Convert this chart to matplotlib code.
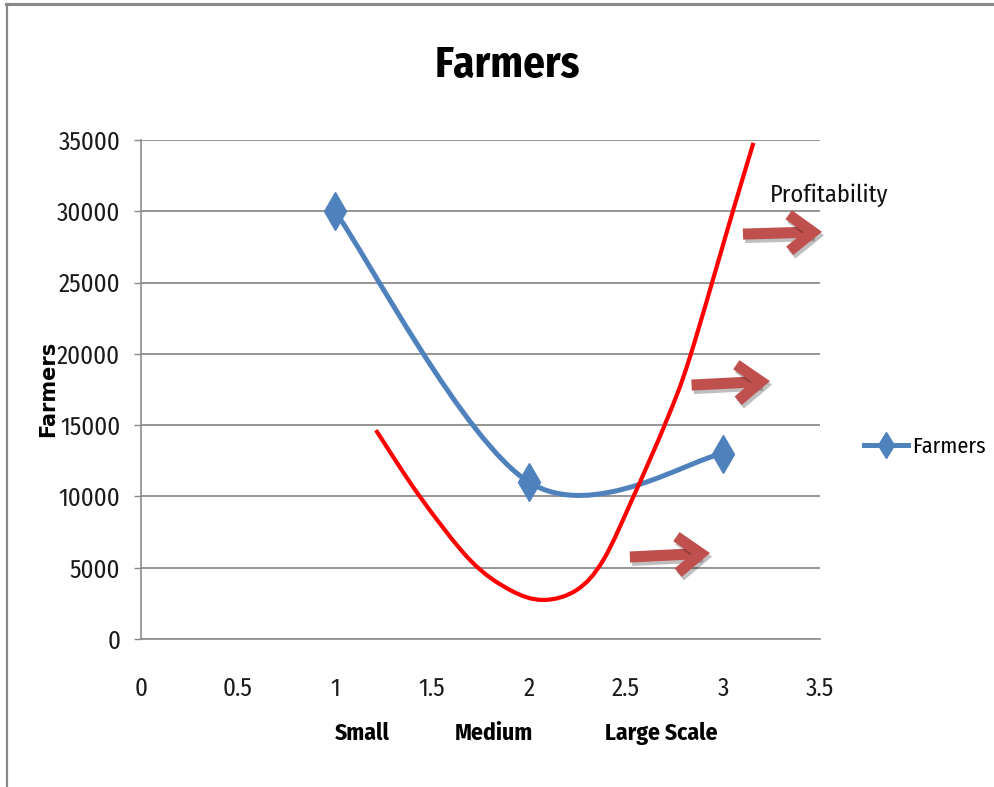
import numpy as np
import matplotlib
matplotlib.use("Agg")
import matplotlib.pyplot as plt
from matplotlib.path import Path
from matplotlib.patches import PathPatch
from matplotlib.lines import Line2D
import matplotlib.patheffects as pe

# farmers per farm size (1 = small, 2 = medium, 3 = large scale)
farm_size = [1, 2, 3]
farmers = [30000, 11000, 13000]

# hand drawn profitability curve
profit_x = [1.211, 1.438, 1.696, 1.902, 2.074, 2.246, 2.383, 2.538, 2.71, 2.83, 3.053, 3.157]
profit_y = [14650, 9980, 5540, 3440, 2740, 3440, 5540, 9980, 15360, 19800, 30100, 34800]

x_ticks = [0, 0.5, 1, 1.5, 2, 2.5, 3, 3.5]
x_tick_labels = ["0", "0.5", "1", "1.5", "2", "2.5", "3", "3.5"]
y_ticks = [0, 5000, 10000, 15000, 20000, 25000, 30000, 35000]
size_names = ["Small", "Medium", "Large Scale"]

NARROW = ["Fira Sans Condensed", "DejaVu Sans"]
W, H = 994, 787


def smooth_path(xs, ys):
    # bezier through the points, same kind of smoothing excel uses
    pts = np.column_stack([xs, ys]).astype(float)
    padded = np.vstack([pts[0], pts, pts[-1]])
    verts = [pts[0]]
    for i in range(len(pts) - 1):
        p0, p1, p2, p3 = padded[i], padded[i + 1], padded[i + 2], padded[i + 3]
        verts += [p1 + (p2 - p0) / 6, p2 - (p3 - p1) / 6, p2]
    codes = [Path.MOVETO] + [Path.CURVE4] * (3 * (len(pts) - 1))
    return Path(verts, codes)


fig = plt.figure(figsize=(W / 100, H / 100), dpi=100)
ax = fig.add_axes([141 / W, 1 - 639 / H, (820 - 141) / W, (639 - 140) / H])

ax.set_xlim(0, 3.5)
ax.set_ylim(0, 35000)
ax.set_xticks(x_ticks)
ax.set_xticklabels(x_tick_labels)
ax.set_yticks(y_ticks)
ax.tick_params(axis="x", length=0, pad=27, labelsize=18, colors="#1a1a1a")
ax.tick_params(axis="y", length=5, width=1, color="#888888", pad=10, labelsize=18, labelcolor="#1a1a1a")
for lab in ax.get_xticklabels() + ax.get_yticklabels():
    lab.set_family(NARROW)

ax.yaxis.grid(True, color="#8c8c8c", lw=1.3)
ax.set_axisbelow(True)
for s in ["top", "right"]:
    ax.spines[s].set_visible(False)
for s in ["left", "bottom"]:
    ax.spines[s].set_color("#8c8c8c")
    ax.spines[s].set_linewidth(1.2)

# farmers line
blue = "#4F81BD"
ax.add_patch(PathPatch(smooth_path(farm_size, farmers), fill=False, edgecolor=blue,
                       lw=3.6, capstyle="round", zorder=3))
ax.plot(farm_size, farmers, ls="none", marker="d", ms=19, color=blue, zorder=4)

# profitability curve
ax.add_patch(PathPatch(smooth_path(profit_x, profit_y), fill=False, edgecolor="#FF0000",
                       lw=3, capstyle="butt", zorder=5))

# arrows pointing at profitability
arrows = [((3.103, 28400), (3.51, 28560)),
          ((2.838, 17810), (3.242, 18090)),
          ((2.52, 5750), (2.933, 6030))]
for tail, tip in arrows:
    ann = ax.annotate("", xy=tip, xytext=tail, annotation_clip=False,
                      arrowprops=dict(arrowstyle="->,head_length=1.7,head_width=1.3",
                                      lw=8, color="#C0504D", shrinkA=0, shrinkB=0,
                                      capstyle="butt", joinstyle="miter"))
    ann.arrow_patch.set_path_effects([
        pe.SimpleLineShadow(offset=(1.5, -2.5), shadow_color="k", alpha=0.25),
        pe.Normal()])
    ann.arrow_patch.set_zorder(6)

ax.text(3.24, 31150, "Profitability", family=NARROW, fontsize=17.5,
        ha="left", va="center", color="#111111", zorder=7)

# legend
handle = Line2D([], [], color=blue, lw=3.6, marker="d", ms=13)
ax.legend(handles=[handle], labels=["Farmers"], loc="center left",
          bbox_to_anchor=(864 / W, 1 - 447 / H), bbox_transform=fig.transFigure,
          frameon=False, handlelength=2.0, handletextpad=0.15, borderpad=0,
          borderaxespad=0, prop={"family": NARROW, "size": 16})

# titles
fig.text(507 / W, 1 - 66 / H, "Farmers", family=NARROW, fontsize=31,
         fontweight="bold", ha="center", va="center")
fig.text(48 / W, 1 - 389 / H, "Farmers", family="DejaVu Sans", fontsize=15,
         fontweight="bold", rotation=90, ha="center", va="center")

# farm size names under the axis
for name, px in zip(size_names, [362, 494, 661]):
    fig.text(px / W, 1 - 733 / H, name, family=NARROW, fontsize=17,
             fontweight="bold", ha="center", va="center")

# frame round the chart
fig.add_artist(Line2D([6 / W, 1], [1 - 3.5 / H, 1 - 3.5 / H], transform=fig.transFigure,
                      color="#888888", lw=2.2))
fig.add_artist(Line2D([6.5 / W, 6.5 / W], [0, 1 - 3.5 / H], transform=fig.transFigure,
                      color="#888888", lw=1.6))

fig.savefig("out.png", dpi=100)
